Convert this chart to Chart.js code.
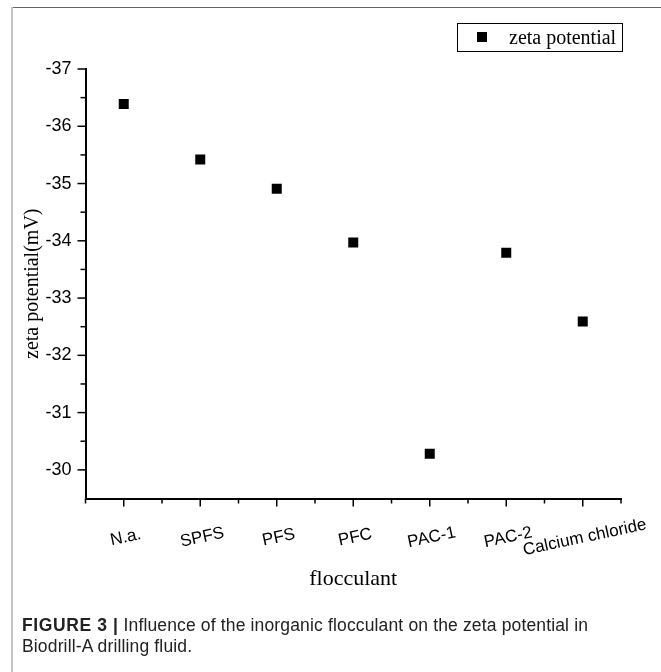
<!DOCTYPE html>
<html>
<head>
<meta charset="utf-8">
<script src="https://cdn.jsdelivr.net/npm/chart.js@4.4.0/dist/chart.umd.min.js"></script>
<style>
  html, body { margin: 0; padding: 0; background: #fff; }
  #wrap { position: relative; width: 661px; height: 672px; overflow: hidden; background: #fff; }
  #topline { position: absolute; left: 12px; top: 7px; width: 649px; height: 1px; background: #666; }
  #leftline { position: absolute; left: 11px; top: 7px; width: 2px; height: 665px; background: #c4c4c4; }
  canvas { position: absolute; left: 0; top: 0; }
  #caption { position: absolute; left: 22px; top: 615px; font-family: "Liberation Sans", Arial, sans-serif;
             font-size: 17.5px; letter-spacing: 0.15px; line-height: 21px; color: #222; white-space: nowrap; }
  #caption b { font-weight: bold; letter-spacing: 0.6px; }
</style>
</head>
<body>
<div id="wrap">
  <canvas id="c" width="661" height="672"></canvas>
  <div id="topline"></div>
  <div id="leftline"></div>
  <div id="caption"><b>FIGURE 3 |</b> Influence of the inorganic flocculant on the zeta potential in<br>Biodrill-A drilling fluid.</div>
</div>
<script>
const categories = ['N.a.', 'SPFS', 'PFS', 'PFC', 'PAC-1', 'PAC-2', 'Calcium chloride'];
const zetaPotential = [-36.39, -35.42, -34.91, -33.97, -30.28, -33.79, -32.59];
const yTickValues = [-37, -36, -35, -34, -33, -32, -31, -30];
const seriesName = 'zeta potential';
const xTitle = 'flocculant';
const yTitle = 'zeta potential(mV)';

const points = zetaPotential.map((v, i) => ({ x: i + 1, y: v }));

const decorPlugin = {
  id: 'decor',
  afterDraw(chart) {
    const ctx = chart.ctx;
    const xs = chart.scales.x, ys = chart.scales.y;
    const area = chart.chartArea;
    ctx.save();
    ctx.strokeStyle = '#000';
    ctx.lineWidth = 1.5;
    // y ticks (major at integers, minor at halves)
    for (let v = ys.min; v < ys.max - 0.01; v += 0.5) {
      const y = ys.getPixelForValue(v);
      const major = Math.abs(v - Math.round(v)) < 0.01;
      const len = major ? 8 : 5;
      ctx.beginPath();
      ctx.moveTo(area.left, y);
      ctx.lineTo(area.left - len, y);
      ctx.stroke();
    }
    // x ticks
    for (let v = xs.min; v <= xs.max + 0.01; v += 0.5) {
      const x = xs.getPixelForValue(v);
      const major = Math.abs(v - Math.round(v)) < 0.01;
      const len = major ? 8 : 5;
      ctx.beginPath();
      ctx.moveTo(x, area.bottom);
      ctx.lineTo(x, area.bottom + len);
      ctx.stroke();
    }
    // x tick labels, rotated and centred
    ctx.fillStyle = '#000';
    ctx.font = '17px "Liberation Sans", Arial, sans-serif';
    ctx.textAlign = 'center';
    ctx.textBaseline = 'middle';
    categories.forEach((c, i) => {
      const x = xs.getPixelForValue(i + 1) + 2;
      const y = area.bottom + 39;
      ctx.save();
      ctx.translate(x, y);
      ctx.rotate(-12 * Math.PI / 180);
      ctx.fillText(c, 0, 0);
      ctx.restore();
    });
    // legend box
    const bx = 457, by = 23, bw = 165, bh = 28;
    ctx.lineWidth = 1;
    ctx.strokeRect(bx + 0.5, by + 0.5, bw, bh);
    ctx.fillRect(477, 32, 10, 10);
    ctx.font = '20px "Liberation Serif", "Times New Roman", serif';
    ctx.textAlign = 'left';
    ctx.textBaseline = 'alphabetic';
    ctx.fillText(seriesName, 509, 44);
    ctx.restore();
  }
};

new Chart(document.getElementById('c'), {
  type: 'scatter',
  data: {
    datasets: [{
      label: seriesName,
      data: points,
      pointStyle: 'rect',
      pointRadius: 7.07,
      pointHoverRadius: 7.07,
      backgroundColor: '#000',
      borderColor: '#000',
      borderWidth: 0
    }]
  },
  options: {
    responsive: false,
    animation: false,
    devicePixelRatio: 1,
    layout: { padding: { left: 12, top: 69, right: 40, bottom: 73.5 } },
    plugins: { legend: { display: false }, tooltip: { enabled: false } },
    scales: {
      x: {
        type: 'linear',
        position: 'bottom',
        min: 0.5,
        max: 7.5,
        grid: { display: false, drawTicks: false },
        border: { display: true, color: '#000', width: 2 },
        ticks: { display: false },
        title: {
          display: true,
          text: xTitle,
          color: '#000',
          font: { family: '"Liberation Serif", "Times New Roman", serif', size: 22 },
          padding: { top: 0, bottom: 6 }
        },
        afterFit(s) { s.height = 100; }
      },
      y: {
        type: 'linear',
        position: 'left',
        reverse: true,
        min: -37,
        max: -29.5,
        grid: { display: false, drawTicks: false },
        border: { display: true, color: '#000', width: 2 },
        afterBuildTicks(s) { s.ticks = yTickValues.map(v => ({ value: v })); },
        ticks: {
          color: '#000',
          padding: 14,
          font: { family: '"Liberation Sans", Arial, sans-serif', size: 18 },
          callback: v => String(v)
        },
        title: {
          display: true,
          text: yTitle,
          color: '#000',
          font: { family: '"Liberation Serif", "Times New Roman", serif', size: 20 },
          padding: { top: 9, bottom: 0 }
        },
        afterFit(s) { s.width = 73.5; }
      }
    }
  },
  plugins: [decorPlugin]
});
</script>
</body>
</html>
